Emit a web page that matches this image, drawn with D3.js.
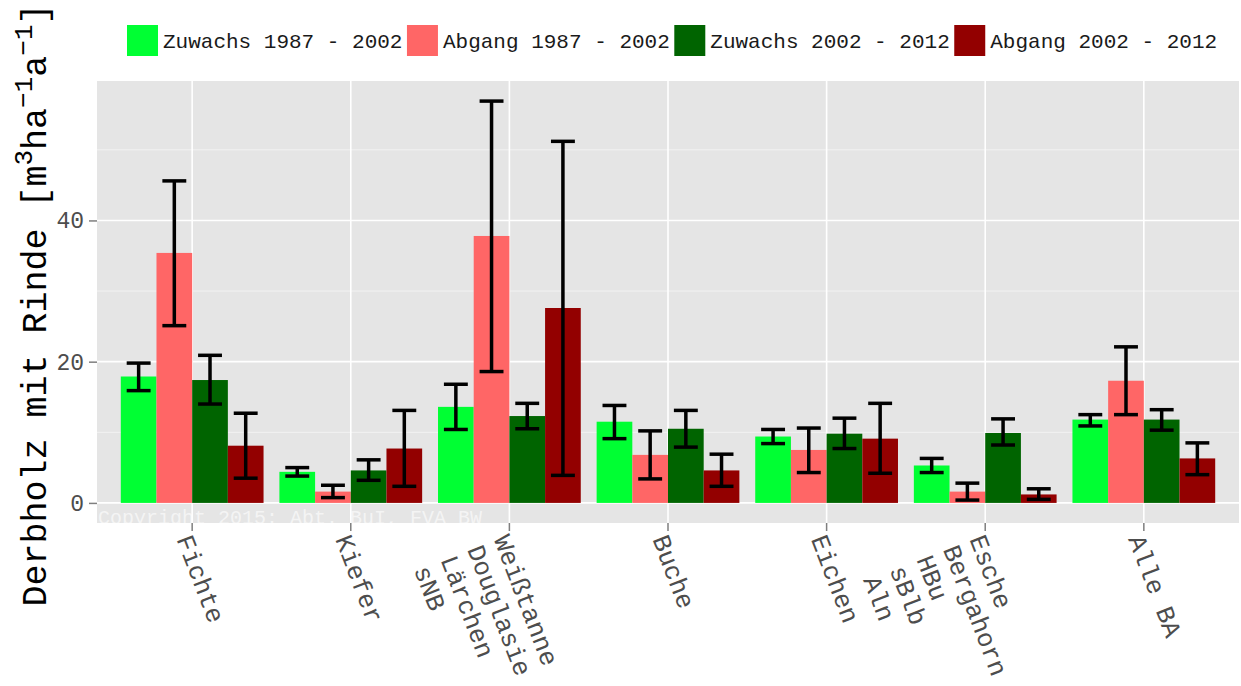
<!DOCTYPE html>
<html>
<head>
<meta charset="utf-8">
<script src="https://cdn.jsdelivr.net/npm/d3@7"></script>
<style>
  body { margin: 0; background: #fff; }
  text { font-family: "Liberation Mono", "Courier New", monospace; }
</style>
</head>
<body>
<svg id="drawing_region"></svg>
<script>
// categories (line breaks as in the original axis labels)
const categories = ["Fichte", "Kiefer", "Weißtanne\nDouglasie\nLärchen\nsNB", "Buche", "Eichen",
    "Esche\nBergahorn\nHBu\nsBlb\nAln", "Alle BA"];
const seriesNames = ["Zuwachs 1987 - 2002", "Abgang 1987 - 2002", "Zuwachs 2002 - 2012", "Abgang 2002 - 2012"];
const seriesColors = ["#00ff33", "#ff6666", "#006400", "#930000"];

const zuwachs87   = [17.9, 4.4, 13.6, 11.5, 9.4, 5.3, 11.8];
const zuwachs87Lo = [15.9, 3.8, 10.4, 9.1, 8.4, 4.3, 10.9];
const zuwachs87Hi = [19.8, 5.0, 16.8, 13.8, 10.4, 6.3, 12.5];
const abgang87    = [35.4, 1.6, 37.8, 6.8, 7.5, 1.6, 17.3];
const abgang87Lo  = [25.1, 0.75, 18.6, 3.4, 4.3, 0.4, 12.5];
const abgang87Hi  = [45.6, 2.5, 56.9, 10.2, 10.6, 2.8, 22.1];
const zuwachs02   = [17.4, 4.6, 12.3, 10.5, 9.8, 9.9, 11.8];
const zuwachs02Lo = [14.0, 3.2, 10.5, 7.9, 7.7, 8.2, 10.3];
const zuwachs02Hi = [20.9, 6.1, 14.1, 13.1, 12.0, 11.9, 13.2];
const abgang02    = [8.1, 7.7, 27.6, 4.6, 9.1, 1.2, 6.3];
const abgang02Lo  = [3.5, 2.35, 3.9, 2.35, 4.2, 0.5, 4.0];
const abgang02Hi  = [12.7, 13.1, 51.2, 6.9, 14.1, 2.0, 8.5];

const yTicks = [0, 20, 40];
const yMinor = [10, 30, 50];

const values = [zuwachs87, abgang87, zuwachs02, abgang02];
const lows = [zuwachs87Lo, abgang87Lo, zuwachs02Lo, abgang02Lo];
const highs = [zuwachs87Hi, abgang87Hi, zuwachs02Hi, abgang02Hi];

const data = [];
categories.forEach((c, i) => {
    seriesNames.forEach((s, j) => {
        data.push({ cat: c, series: s, value: values[j][i], lo: lows[j][i], hi: highs[j][i] });
    });
});

const width = 1241, height = 686;
const panel = { left: 97, right: 1239, top: 81, bottom: 523 };

const svg = d3.select('#drawing_region')
    .attr('width', width)
    .attr('height', height);

// ggplot-like expansion of 5% on the y range
const ymax = d3.max(data, d => d.hi);
const ypad = ymax * 0.05;
const yscale = d3.scaleLinear()
    .domain([0 - ypad, ymax + ypad])
    .range([panel.bottom, panel.top]);

const xscale = d3.scaleBand()
    .domain(categories)
    .range([panel.left, panel.right])
    .paddingInner(0)
    .paddingOuter(0.1);

const bw = xscale.bandwidth();
const xsub = d3.scaleBand()
    .domain(seriesNames)
    .range([bw * 0.05, bw * 0.95]);

const color = d3.scaleOrdinal().domain(seriesNames).range(seriesColors);

svg.append('defs').append('clipPath').attr('id', 'panelclip')
    .append('rect')
    .attr('x', panel.left).attr('y', panel.top)
    .attr('width', panel.right - panel.left).attr('height', panel.bottom - panel.top);

// panel background
svg.append('rect')
    .attr('x', panel.left).attr('y', panel.top)
    .attr('width', panel.right - panel.left).attr('height', panel.bottom - panel.top)
    .attr('fill', '#e5e5e5');

const grid = svg.append('g');
grid.selectAll('.minor')
    .data(yMinor)
    .enter().append('line')
    .attr('x1', panel.left).attr('x2', panel.right)
    .attr('y1', d => yscale(d)).attr('y2', d => yscale(d))
    .attr('stroke', '#f2f2f2').attr('stroke-width', 1);
grid.selectAll('.major')
    .data(yTicks)
    .enter().append('line')
    .attr('x1', panel.left).attr('x2', panel.right)
    .attr('y1', d => yscale(d)).attr('y2', d => yscale(d))
    .attr('stroke', '#ffffff').attr('stroke-width', 1.6);
grid.selectAll('.vmajor')
    .data(categories)
    .enter().append('line')
    .attr('x1', d => xscale(d) + bw / 2).attr('x2', d => xscale(d) + bw / 2)
    .attr('y1', panel.top).attr('y2', panel.bottom)
    .attr('stroke', '#ffffff').attr('stroke-width', 1.6);

// copyright inside the panel
svg.append('text')
    .attr('x', panel.left + 1)
    .attr('y', panel.bottom + 1)
    .attr('clip-path', 'url(#panelclip)')
    .attr('font-size', 20)
    .attr('fill', '#ffffff')
    .attr('fill-opacity', 0.6)
    .text('Copyright 2015: Abt. BuI, FVA BW');

// bars
const chart = svg.append('g');
chart.selectAll('rect.bar')
    .data(data)
    .enter().append('rect')
    .attr('class', 'bar')
    .attr('x', d => xscale(d.cat) + xsub(d.series))
    .attr('y', d => yscale(d.value))
    .attr('width', xsub.bandwidth())
    .attr('height', d => yscale(0) - yscale(d.value))
    .attr('fill', d => color(d.series));

// error bars
const capw = xsub.bandwidth() * 0.67;
const eb = chart.selectAll('g.err')
    .data(data)
    .enter().append('g')
    .attr('transform', d => `translate(${xscale(d.cat) + xsub(d.series) + xsub.bandwidth() / 2},0)`)
    .attr('stroke', '#000').attr('stroke-width', 3.5);
eb.append('line').attr('x1', 0).attr('x2', 0)
    .attr('y1', d => yscale(d.lo)).attr('y2', d => yscale(d.hi));
eb.append('line').attr('x1', -capw / 2).attr('x2', capw / 2)
    .attr('y1', d => yscale(d.lo)).attr('y2', d => yscale(d.lo));
eb.append('line').attr('x1', -capw / 2).attr('x2', capw / 2)
    .attr('y1', d => yscale(d.hi)).attr('y2', d => yscale(d.hi));

// y axis
const yaxis = d3.axisLeft(yscale).tickValues(yTicks).tickSize(8).tickPadding(5);
const yg = svg.append('g').attr('transform', `translate(${panel.left},0)`).call(yaxis);
yg.select('.domain').remove();
yg.selectAll('line').attr('stroke', '#7f7f7f').attr('stroke-width', 1.5);
yg.selectAll('text').attr('font-size', 23).attr('fill', '#4d4d4d')
    .attr('font-family', '"Liberation Mono", "Courier New", monospace');

// x axis ticks
const xg = svg.append('g');
xg.selectAll('line')
    .data(categories)
    .enter().append('line')
    .attr('x1', d => xscale(d) + bw / 2).attr('x2', d => xscale(d) + bw / 2)
    .attr('y1', panel.bottom).attr('y2', panel.bottom + 8)
    .attr('stroke', '#7f7f7f').attr('stroke-width', 1.5);

// rotated multi-line x labels
const xl = xg.selectAll('g.lab')
    .data(categories)
    .enter().append('g')
    .attr('transform', d => `translate(${xscale(d) + bw / 2},${panel.bottom + 10}) rotate(69)`);
xl.each(function (d) {
    const g = d3.select(this);
    d.split('\n').forEach((line, i) => {
        g.append('text')
            .attr('x', 0)
            .attr('y', 17 + i * 28.5)
            .attr('font-size', 25.5)
            .attr('fill', '#4d4d4d')
            .text(line);
    });
});

// y title with superscripts
const yt = svg.append('text')
    .attr('transform', 'translate(46,305) rotate(-90)')
    .attr('text-anchor', 'middle')
    .attr('font-size', 35)
    .attr('fill', '#000');
yt.append('tspan').text('Derbholz mit Rinde [m');
yt.append('tspan').attr('font-size', 26).attr('dy', -14).text('3');
yt.append('tspan').attr('dy', 14).text('ha');
yt.append('tspan').attr('font-size', 26).attr('dy', -14).text('\u22121');
yt.append('tspan').attr('dy', 14).text('a');
yt.append('tspan').attr('font-size', 26).attr('dy', -14).text('\u22121');
yt.append('tspan').attr('dy', 14).text(']');

// legend
const legend = svg.append('g');
let lx = 127;
seriesNames.forEach((s, j) => {
    legend.append('rect')
        .attr('x', lx).attr('y', 25)
        .attr('width', 31).attr('height', 31)
        .attr('fill', color(s));
    const t = legend.append('text')
        .attr('x', lx + 36).attr('y', 48)
        .attr('font-size', 21)
        .attr('fill', '#1a1a1a')
        .text(s);
    lx += 36 + t.node().getComputedTextLength() + 4.5;
});
</script>
</body>
</html>
